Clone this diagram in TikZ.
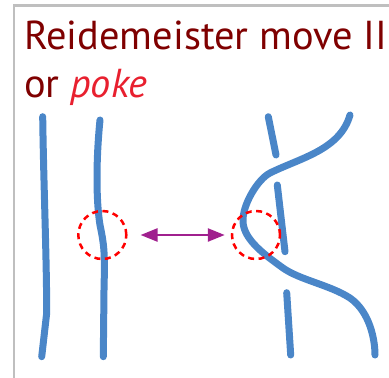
\documentclass[tikz,border=0pt]{standalone}
\usepackage{fontspec}
\setmainfont{PT Sans}
\usetikzlibrary{arrows.meta}
\definecolor{titlered}{HTML}{7F0000}
\definecolor{pokered}{HTML}{E8202F}
\definecolor{strand}{HTML}{4A86C8}
\definecolor{framegray}{HTML}{BFBFBF}
\definecolor{movearrow}{HTML}{A0208E}
\tikzset{
  strandline/.style={draw=strand, line width=7pt, line cap=round, line join=round},
  zone/.style={draw=red, line width=2.5pt, dash pattern=on 6pt off 4.5pt, circle, minimum size=48pt, inner sep=0pt},
  movearr/.style={draw=movearrow, line width=2.5pt, {Triangle[length=17pt,width=13pt]}-{Triangle[length=17pt,width=13pt]}},
  title/.style={anchor=base west, inner sep=0pt, text=titlered, font=\fontsize{40.4pt}{48pt}\selectfont}
}
\begin{document}
\begin{tikzpicture}[x=1pt, y=-1pt]
\useasboundingbox (0,0) rectangle (389,378);
% slide frame
\draw[framegray, line width=2.5pt] (14,400) -- (14,5.5) -- (400,5.5);
% title
\node[title] (t1) at (24,49) {Reidemeister move II};
\node[title] (t2) at (24,97) {or \textcolor{pokered}{\itshape poke}};
% left picture: two separated strands
\draw[strandline] (42.7,116.7) .. controls (43.5,180) and (46.7,260) .. (46.7,313) -- (41.7,356.7);
\draw[strandline] (100,120) .. controls (96,160) and (96,200) .. (100,225)
  .. controls (104,245) and (105,250) .. (104,290) -- (103.3,356.7);
% right picture: one strand poked under the other
\draw[strandline] (350,115) .. controls (340,150) and (300,158) .. (270,173)
  .. controls (258,179) and (242,205) .. (243,222)
  .. controls (244,240) and (265,255) .. (283,268)
  .. controls (300,280) and (330,285) .. (350,298)
  .. controls (370,312) and (375,340) .. (375,355);
\draw[strandline] (268.3,116.7) -- (276,155);
\draw[strandline] (277.3,185) -- (285,251.7);
\draw[strandline] (286.7,292.7) -- (290.7,355);
% regions where the move happens
\node[zone] (c1) at (102.3,235) {};
\node[zone] (c2) at (256,235) {};
\draw[movearr] ([xshift=13pt]c1.east) -- ([xshift=-6pt]c2.west);
\end{tikzpicture}
\end{document}
